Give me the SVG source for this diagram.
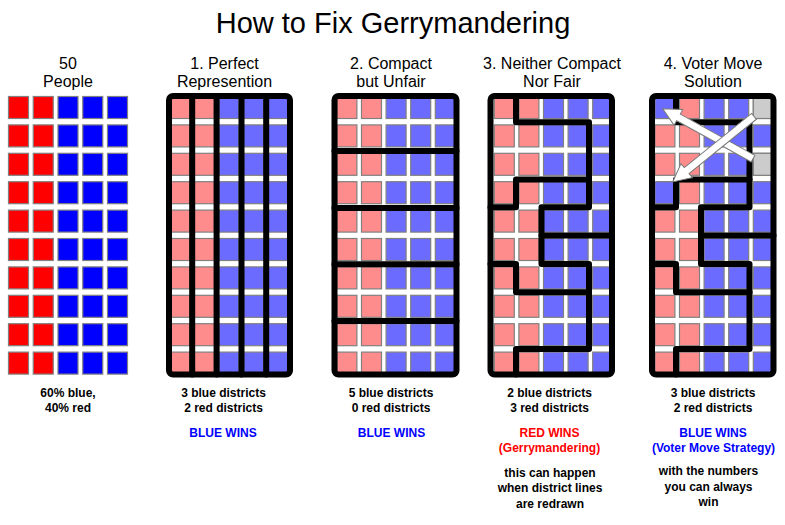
<svg xmlns="http://www.w3.org/2000/svg" xmlns:xlink="http://www.w3.org/1999/xlink" width="785" height="525" viewBox="0 0 785 525">
<style>
text{font-family:"Liberation Sans",Arial,Helvetica,sans-serif;text-anchor:middle;fill:#000}
.title{font-size:29px}
.hd{font-size:16px}
.lb{font-size:12px;font-weight:bold}
.blue{fill:#0000ff}
.red{fill:#ff0000}
.c{stroke:#808080;stroke-width:1.2}
.cr{fill:#ff0000}
.cb{fill:#0000ff}
.cp{fill:#ff8c8c}
.cl{fill:#6b6bff}
.cg{fill:#cccccc}
.frame{fill:none;stroke:#000;stroke-width:6}
.d{fill:none;stroke:#000;stroke-width:6;stroke-linejoin:round;stroke-linecap:round}
.arrow{fill:#fff;stroke:#7a7a7a;stroke-width:1}
</style>
<defs>
<g id="rowL">
<rect class="c cr" x="0.5" y="0.5" width="20" height="22"/>
<rect class="c cr" x="25.25" y="0.5" width="20" height="22"/>
<rect class="c cb" x="50" y="0.5" width="20" height="22"/>
<rect class="c cb" x="74.75" y="0.5" width="20" height="22"/>
<rect class="c cb" x="99.5" y="0.5" width="20" height="22"/>
</g>
<g id="rowP">
<rect class="c cp" x="0.5" y="0.5" width="20" height="22"/>
<rect class="c cp" x="25.1" y="0.5" width="20" height="22"/>
<rect class="c cl" x="49.7" y="0.5" width="20" height="22"/>
<rect class="c cl" x="74.3" y="0.5" width="20" height="22"/>
<rect class="c cl" x="98.9" y="0.5" width="20" height="22"/>
</g>
<g id="gridP">
<use href="#rowP" y="0"/>
<use href="#rowP" y="28.4"/>
<use href="#rowP" y="56.8"/>
<use href="#rowP" y="85.2"/>
<use href="#rowP" y="113.6"/>
<use href="#rowP" y="142"/>
<use href="#rowP" y="170.4"/>
<use href="#rowP" y="198.8"/>
<use href="#rowP" y="227.2"/>
<use href="#rowP" y="255.6"/>
</g>
</defs>
<rect x="0" y="0" width="785" height="525" fill="#fff"/>

<g id="title">
<text class="title" x="393" y="33">How to Fix Gerrymandering</text>
</g>

<g id="panel-people">
<text class="hd" x="68" y="69">50</text>
<text class="hd" x="68" y="87">People</text>
<use href="#rowL" x="8" y="96"/>
<use href="#rowL" x="8" y="124.4"/>
<use href="#rowL" x="8" y="152.8"/>
<use href="#rowL" x="8" y="181.2"/>
<use href="#rowL" x="8" y="209.6"/>
<use href="#rowL" x="8" y="238"/>
<use href="#rowL" x="8" y="266.4"/>
<use href="#rowL" x="8" y="294.8"/>
<use href="#rowL" x="8" y="323.2"/>
<use href="#rowL" x="8" y="351.6"/>
<text class="lb" x="68" y="397">60% blue,</text>
<text class="lb" x="68" y="411.5">40% red</text>
</g>

<g id="panel-1">
<text class="hd" x="224.5" y="69">1. Perfect</text>
<text class="hd" x="224.5" y="87">Represention</text>
<use href="#gridP" x="169.3" y="96"/>
<path class="d" d="M192.2,96V374.5M216.6,96V374.5M241.5,96V374.5M266.2,96V374.5"/>
<rect class="frame" x="169" y="96" width="121" height="278.5" rx="4"/>
<text class="lb" x="223.5" y="397">3 blue districts</text>
<text class="lb" x="223.5" y="411.5">2 red districts</text>
<text class="lb blue" x="223" y="436.5">BLUE WINS</text>
</g>

<g id="panel-2">
<text class="hd" x="391" y="69">2. Compact</text>
<text class="hd" x="391" y="87">but Unfair</text>
<use href="#gridP" x="336.4" y="96"/>
<path class="d" d="M334.5,151H456.5M334.5,208H456.5M334.5,264.3H456.5M334.5,321H456.5"/>
<rect class="frame" x="334.5" y="96" width="122" height="278.5" rx="4"/>
<text class="lb" x="391" y="397">5 blue districts</text>
<text class="lb" x="391" y="411.5">0 red districts</text>
<text class="lb blue" x="391.5" y="436.5">BLUE WINS</text>
</g>

<g id="panel-3">
<text class="hd" x="552" y="69">3. Neither Compact</text>
<text class="hd" x="552" y="87">Nor Fair</text>
<use href="#gridP" x="493.8" y="96"/>
<path class="d" d="M516,96V122.2H589V207.3H541.5V264H589V349H516V374.5"/>
<path class="d" d="M541.5,235.6H612"/>
<path class="d" d="M589,179.5H516V207.3H490.5"/>
<path class="d" d="M490.5,264H516V292.3H589"/>
<rect class="frame" x="490.5" y="96" width="121.5" height="278.5" rx="4"/>
<text class="lb" x="549.5" y="397">2 blue districts</text>
<text class="lb" x="549.5" y="411.5">3 red districts</text>
<text class="lb red" x="549.5" y="436.5">RED WINS</text>
<text class="lb red" x="549.5" y="452">(Gerrymandering)</text>
<text class="lb" x="550" y="476.5">this can happen</text>
<text class="lb" x="550" y="492">when district lines</text>
<text class="lb" x="550" y="507.5">are redrawn</text>
</g>

<g id="panel-4">
<text class="hd" x="713" y="69">4. Voter Move</text>
<text class="hd" x="713" y="87">Solution</text>
<use href="#gridP" x="654.4" y="96"/>
<rect class="c cl" x="654.9" y="96.5" width="20" height="22"/>
<rect class="c cg" x="753.3" y="96.5" width="20" height="22"/>
<rect class="c cg" x="753.3" y="153.3" width="20" height="22"/>
<rect class="c cl" x="654.9" y="181.7" width="20" height="22"/>
<path class="d" d="M676,96V122.2H749.5V207.3H701V264H749.5V349H676V374.5"/>
<path class="d" d="M701,235.6H773.5"/>
<path class="d" d="M749.5,179.5H676V207.3H652"/>
<path class="d" d="M652,264H676V292.3H749.5"/>
<rect class="frame" x="652" y="96" width="121.5" height="278.5" rx="4"/>
<text class="lb" x="713" y="397">3 blue districts</text>
<text class="lb" x="713" y="411.5">2 red districts</text>
<text class="lb blue" x="713" y="436.5">BLUE WINS</text>
<text class="lb blue" x="713.5" y="452">(Voter Move Strategy)</text>
<text class="lb" x="708.5" y="475">with the numbers</text>
<text class="lb" x="708.5" y="491">you can always</text>
<text class="lb" x="708.5" y="506">win</text>
</g>

<g id="connectors">
<polygon class="arrow" transform="translate(753,158.7) rotate(209)" points="0,-3.8 85.2,-3.8 85.2,-9 103.2,0 85.2,9 85.2,3.8 0,3.8"/>
<polygon class="arrow" transform="translate(754,116.3) rotate(141.1)" points="0,-3.8 86.5,-3.8 86.5,-9 104.5,0 86.5,9 86.5,3.8 0,3.8"/>
</g>
</svg>
